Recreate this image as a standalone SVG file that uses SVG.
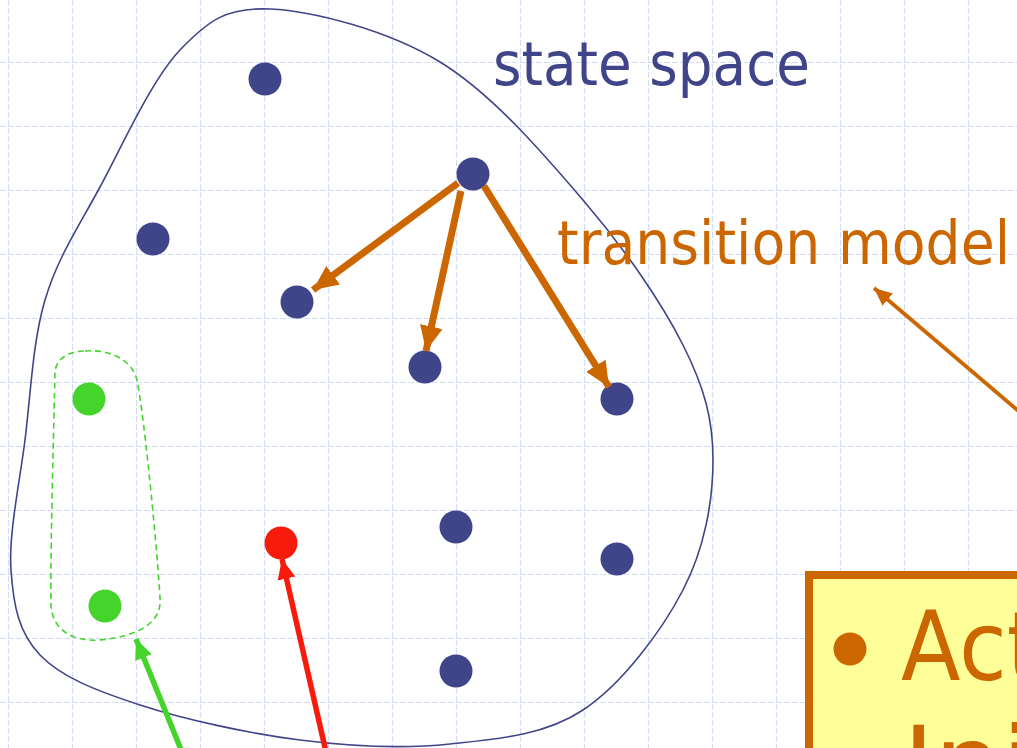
<svg xmlns="http://www.w3.org/2000/svg" width="1017" height="748" viewBox="0 0 1017 748">
<style>
.grid line{stroke:#d4dcf8;stroke-width:1.2;stroke-dasharray:6 2}
.dot{fill:#404489}
.lbl{font-family:"DejaVu Sans","Liberation Sans",sans-serif;font-size:60px}
.orange{stroke:#cc6600;fill:none}
</style>
<defs>
<marker id="ho" markerUnits="userSpaceOnUse" markerWidth="30" markerHeight="30" refX="25" refY="11.5" orient="auto"><path d="M0,0 L25,11.5 L0,23 Z" fill="#cc6600"/></marker>
<marker id="hos" markerUnits="userSpaceOnUse" markerWidth="22" markerHeight="22" refX="18" refY="8" orient="auto"><path d="M0,0 L18,8 L0,16 Z" fill="#cc6600"/></marker>
<marker id="hg" markerUnits="userSpaceOnUse" markerWidth="24" markerHeight="24" refX="20" refY="9" orient="auto"><path d="M0,0 L20,9 L0,18 Z" fill="#44d42c"/></marker>
<marker id="hr" markerUnits="userSpaceOnUse" markerWidth="24" markerHeight="24" refX="20" refY="9" orient="auto"><path d="M0,0 L20,9 L0,18 Z" fill="#f81a0a"/></marker>
</defs>
<rect width="1017" height="748" fill="#ffffff"/>
<g class="grid">
<line x1="8.5" y1="0" x2="8.5" y2="748"/><line x1="72.5" y1="0" x2="72.5" y2="748"/><line x1="136.5" y1="0" x2="136.5" y2="748"/><line x1="200.5" y1="0" x2="200.5" y2="748"/><line x1="264.5" y1="0" x2="264.5" y2="748"/><line x1="328.5" y1="0" x2="328.5" y2="748"/><line x1="392.5" y1="0" x2="392.5" y2="748"/><line x1="456.5" y1="0" x2="456.5" y2="748"/><line x1="520.5" y1="0" x2="520.5" y2="748"/><line x1="584.5" y1="0" x2="584.5" y2="748"/><line x1="648.5" y1="0" x2="648.5" y2="748"/><line x1="712.5" y1="0" x2="712.5" y2="748"/><line x1="776.5" y1="0" x2="776.5" y2="748"/><line x1="840.5" y1="0" x2="840.5" y2="748"/><line x1="904.5" y1="0" x2="904.5" y2="748"/><line x1="968.5" y1="0" x2="968.5" y2="748"/>
<line x1="0" y1="62.5" x2="1017" y2="62.5"/><line x1="0" y1="126.5" x2="1017" y2="126.5"/><line x1="0" y1="190.5" x2="1017" y2="190.5"/><line x1="0" y1="254.5" x2="1017" y2="254.5"/><line x1="0" y1="318.5" x2="1017" y2="318.5"/><line x1="0" y1="382.5" x2="1017" y2="382.5"/><line x1="0" y1="446.5" x2="1017" y2="446.5"/><line x1="0" y1="510.5" x2="1017" y2="510.5"/><line x1="0" y1="574.5" x2="1017" y2="574.5"/><line x1="0" y1="638.5" x2="1017" y2="638.5"/><line x1="0" y1="702.5" x2="1017" y2="702.5"/>
</g>
<g id="state-space">
<path d="M270,9 C313.3,11 387.8,30.2 440,62 C492.2,93.8 542.5,152.8 583,200 C623.5,247.2 661.3,301.7 683,345 C704.7,388.3 713,419.2 713,460 C713,500.8 704.7,548.3 683,590 C661.3,631.7 621.8,684.3 583,710 C544.2,735.7 497.2,739 450,744 C402.8,749 351.7,746.5 300,740 C248.3,733.5 183.3,719.2 140,705 C96.7,690.8 61.5,677.5 40,655 C18.5,632.5 13.5,605.8 11,570 C8.5,534.2 19.3,485 25,440 C30.7,395 32.5,342.2 45,300 C57.5,257.8 77.5,228.7 100,187 C122.5,145.3 151.7,79.7 180,50 C208.3,20.3 226.7,7 270,9 Z" fill="none" stroke="#404489" stroke-width="1.6"/>
<text class="lbl" x="493" y="85" fill="#404489" textLength="317" lengthAdjust="spacingAndGlyphs">state space</text>
</g>
<g id="goal-set">
<path d="M85,351 C110,349 132,360 137,380 C145,420 158,560 160,598 C162,622 140,636 100,640 C70,642 52,628 51,605 C50,560 54,420 55,372 C56,358 70,351 85,351 Z" fill="none" stroke="#44d42c" stroke-width="1.6" stroke-dasharray="6 4"/>
</g>
<g id="s1"><circle class="dot" cx="265" cy="79" r="16.5"/></g>
<g id="s2"><circle class="dot" cx="153" cy="239" r="16.5"/></g>
<g id="s3"><circle class="dot" cx="297" cy="302" r="16.5"/></g>
<g id="s4"><circle class="dot" cx="473" cy="174" r="16.5"/></g>
<g id="s5"><circle class="dot" cx="425" cy="367" r="16.5"/></g>
<g id="s6"><circle class="dot" cx="617" cy="399" r="16.5"/></g>
<g id="s7"><circle class="dot" cx="456" cy="527" r="16.5"/></g>
<g id="s8"><circle class="dot" cx="617" cy="559" r="16.5"/></g>
<g id="s9"><circle class="dot" cx="456" cy="671" r="16.5"/></g>
<g id="g1"><circle cx="89" cy="399" r="16.5" fill="#44d42c"/></g>
<g id="g2"><circle cx="105" cy="606" r="16.5" fill="#44d42c"/></g>
<g id="init"><circle cx="281" cy="543" r="16.5" fill="#f81a0a"/></g>
<g id="transition-label">
<text class="lbl" x="557" y="264" fill="#cc6600" textLength="453" lengthAdjust="spacingAndGlyphs">transition model</text>
</g>
<g id="connectors">
<line class="orange" x1="458" y1="183" x2="313" y2="290" stroke-width="7" marker-end="url(#ho)"/>
<line class="orange" x1="461" y1="191" x2="426" y2="351" stroke-width="7" marker-end="url(#ho)"/>
<line class="orange" x1="484" y1="186" x2="609" y2="387" stroke-width="7" marker-end="url(#ho)"/>
<line class="orange" x1="1022" y1="414" x2="874" y2="288" stroke-width="3.8" marker-end="url(#hos)"/>
<line x1="182" y1="752" x2="136" y2="639" stroke="#44d42c" stroke-width="5.5" marker-end="url(#hg)"/>
<line x1="326" y1="752" x2="282" y2="559" stroke="#f81a0a" stroke-width="5.5" marker-end="url(#hr)"/>
</g>
<g id="legend-box">
<rect x="809" y="575" width="230" height="200" fill="#ffff99" stroke="#cc6600" stroke-width="8"/>
<circle cx="850" cy="649" r="16.5" fill="#cc6600"/>
<circle cx="850" cy="765" r="16.5" fill="#cc6600"/>
<text x="901" y="680" font-family="DejaVu Sans, Liberation Sans, sans-serif" font-size="96" fill="#cc6600" textLength="140" lengthAdjust="spacingAndGlyphs">Act</text>
<text x="903" y="795" font-family="DejaVu Sans, Liberation Sans, sans-serif" font-size="96" fill="#cc6600" textLength="170" lengthAdjust="spacingAndGlyphs">Init</text>
</g>
</svg>
